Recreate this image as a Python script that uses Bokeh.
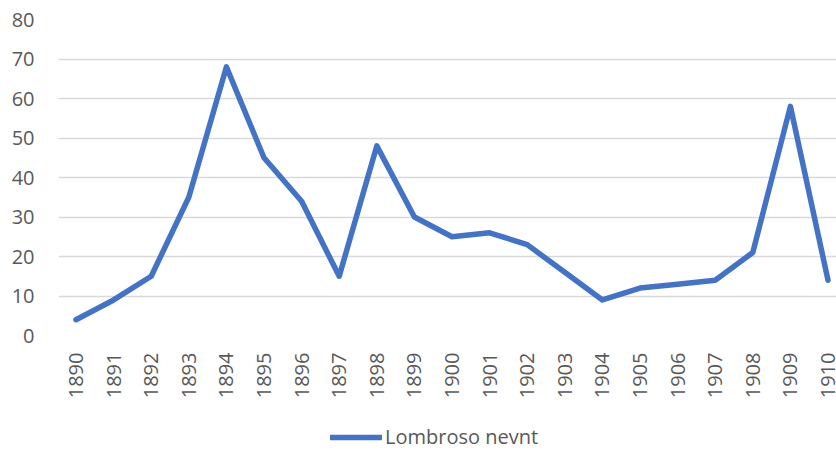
import math
from bokeh.plotting import figure
from bokeh.layouts import column
from bokeh.models import Range1d, FixedTicker, Legend, LegendItem
from bokeh.embed import file_html
from bokeh.resources import INLINE

years = [1890, 1891, 1892, 1893, 1894, 1895, 1896, 1897, 1898, 1899, 1900,
         1901, 1902, 1903, 1904, 1905, 1906, 1907, 1908, 1909, 1910]
mentions = [4, 9, 15, 35, 68, 45, 34, 15, 48, 30, 25,
            26, 23, 16, 9, 12, 13, 14, 21, 58, 14]
year_labels = [str(y) for y in years]
y_ticks = [0, 10, 20, 30, 40, 50, 60, 70, 80]
series_name = "Lombroso nevnt"

FONT = "Open Sans"
TXT = "#595959"
GRID = "#d9d9d9"
LINE = "#4472C4"

p = figure(width=836, height=420,
           x_range=Range1d(1889.5346, 1910.226), y_range=Range1d(0, 80),
           output_backend="svg", toolbar_location=None,
           min_border_left=58, min_border_right=0, min_border_top=19,
           min_border_bottom=85)
p.outline_line_color = None
p.background_fill_color = "white"
p.border_fill_color = "white"

r = p.line(years, mentions, line_color=LINE, line_width=5.5,
           line_join="round", line_cap="round")

# x axis
xa = p.xaxis[0]
xa.ticker = FixedTicker(ticks=years)
xa.major_label_overrides = {y: lab for y, lab in zip(years, year_labels)}
xa.major_label_orientation = math.pi / 2
xa.axis_line_color = None
xa.major_tick_line_color = None
xa.minor_tick_line_color = None
xa.major_tick_out = 0
xa.major_tick_in = 0
xa.major_label_standoff = 17
xa.major_label_text_font = FONT
xa.major_label_text_font_size = "20px"
xa.major_label_text_color = TXT

# y axis
ya = p.yaxis[0]
ya.ticker = FixedTicker(ticks=y_ticks)
ya.axis_line_color = None
ya.major_tick_line_color = None
ya.minor_tick_line_color = None
ya.major_tick_out = 0
ya.major_tick_in = 0
ya.major_label_standoff = 24
ya.major_label_text_font = FONT
ya.major_label_text_font_size = "20px"
ya.major_label_text_color = TXT

p.xgrid.visible = False
p.ygrid.grid_line_color = GRID
p.ygrid.grid_line_width = 1.3

# legend strip below the chart (its series copy lies outside its view)
lg = figure(width=836, height=30, x_axis_type=None, y_axis_type=None,
            x_range=Range1d(1890, 1910), y_range=Range1d(1000, 1001),
            output_backend="svg", toolbar_location=None, min_border=0)
lg.outline_line_color = None
lg.grid.visible = False
r2 = lg.line(years, mentions, line_color=LINE, line_width=5.5,
             line_cap="round")
legend = Legend(items=[LegendItem(label=series_name, renderers=[r2])],
                location=(272, 0), orientation="horizontal",
                border_line_color=None, background_fill_alpha=0,
                padding=0, margin=0, glyph_width=52, glyph_height=20,
                label_standoff=3, label_height=20,
                label_text_font=FONT, label_text_font_size="20px",
                label_text_color=TXT)
lg.add_layout(legend, "center")

layout = column(p, lg, spacing=0)
open("out.html", "w").write(file_html(layout, INLINE))
